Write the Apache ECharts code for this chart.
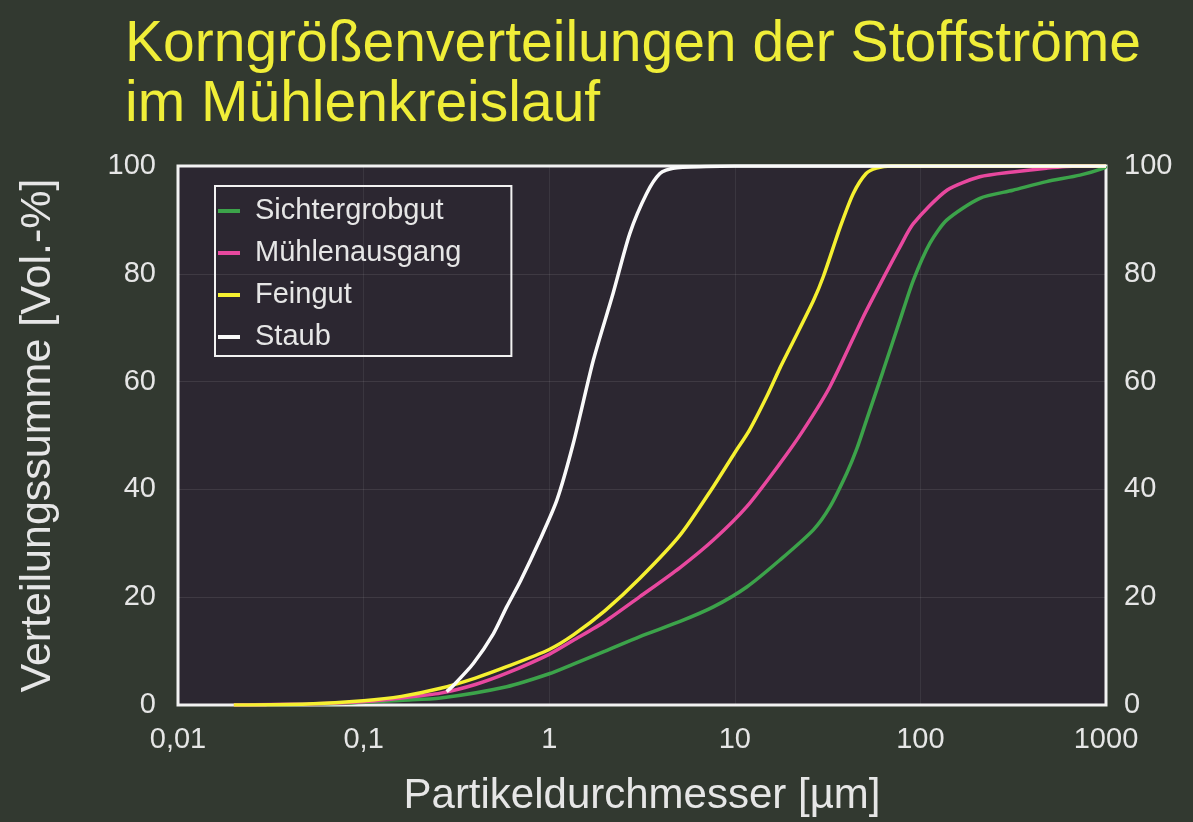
<!DOCTYPE html>
<html>
<head>
<meta charset="utf-8">
<script src="https://cdn.jsdelivr.net/npm/echarts@6/dist/echarts.min.js"></script>
<style>
	html, body { margin: 0; padding: 0; background: #323930; }
	#chart { width: 1193px; height: 822px; }
</style>
</head>
<body>
<div id="chart"></div>
<script>
// Partikeldurchmesser [µm] -> Verteilungssumme [Vol.-%]
const sichtergrobgut = [[0.03, 0], [0.072, 0.3], [0.163, 0.9], [0.26, 1.3], [0.59, 3.4], [1, 5.8], [1.35, 7.6], [2, 10], [3.08, 12.7], [5.07, 15.5], [7.66, 18.2], [11.6, 21.9], [17.5, 26.9], [26.5, 32.5], [32.6, 36.8], [40.1, 43], [45.4, 47.5], [51.4, 53], [63, 62], [77.6, 71.4], [91.6, 78.8], [112.6, 85.7], [139, 90], [209, 94], [315, 95.5], [478, 97.1], [724, 98.3], [975, 99.6], [1000, 100]]
const muehlenausgang = [[0.02, 0], [0.05, 0.2], [0.1, 0.6], [0.16, 1.3], [0.26, 2.2], [0.4, 3.8], [0.59, 5.9], [1, 9.4], [1.35, 12], [2, 15.5], [3.08, 20.1], [5.07, 25.5], [7.66, 30.6], [11.6, 36.8], [17.5, 44.8], [23.4, 51], [32.6, 59.1], [49.2, 72], [60.5, 78], [77.6, 85], [91.6, 89.3], [139, 95.5], [209, 98], [315, 98.9], [478, 99.6], [700, 100], [1000, 100]]
const feingut = [[0.02, 0], [0.05, 0.2], [0.1, 0.8], [0.16, 1.6], [0.26, 3.1], [0.4, 5], [0.59, 7.1], [1, 10.3], [1.35, 13], [2, 17.5], [3.08, 23.5], [5.07, 31.5], [7.66, 40.5], [10, 46.8], [12, 51], [15, 57.5], [17.5, 62.5], [20, 66.5], [26.5, 75], [30, 79.5], [37, 88.7], [43.5, 94.9], [51, 98.6], [58, 99.6], [70, 100], [1000, 100]]
const staub = [[0.28, 2.5], [0.3, 3.4], [0.39, 7.7], [0.5, 13.2], [0.59, 18.2], [0.7, 23], [0.89, 30.6], [1.1, 38], [1.35, 48.6], [1.73, 64], [2.21, 76.4], [2.72, 87.5], [3.35, 94.9], [3.95, 98.6], [4.65, 99.6], [7, 99.9], [10, 100], [1000, 100]]
const yTicks = [0, 20, 40, 60, 80, 100]

const font = "'Liberation Sans', Arial, sans-serif"
const textColor = '#e6e6e6'

const chart = echarts.init(document.getElementById('chart'))

// Linien
const linie = (name, data, color) => ({
	name: name,
	type: 'line',
	data: data,
	smooth: 0.25,
	showSymbol: false,
	lineStyle: { color: color, width: 3.5 },
	itemStyle: { color: color }
})

const yAchse = (pos, margin) => ({
	type: 'value',
	position: pos,
	min: yTicks[0],
	max: yTicks[yTicks.length - 1],
	interval: 20,
	axisLine: { show: false },
	axisTick: { show: false },
	splitLine: { show: pos === 'left', lineStyle: { color: 'rgba(255,255,255,0.09)', width: 1 } },
	axisLabel: { color: textColor, fontSize: 29, fontFamily: font, margin: margin }
})

const option = {
	backgroundColor: '#323930',
	animation: false,
	title: {
		text: 'Korngrößenverteilungen der Stoffströme\nim Mühlenkreislauf',
		left: 125,
		top: 15,
		padding: 0,
		textStyle: { color: '#f0ee38', fontSize: 57, fontWeight: 'normal', fontFamily: font, lineHeight: 60 }
	},
	legend: {
		orient: 'vertical',
		left: 215,
		top: 186,
		padding: [10, 50, 4, 3],
		itemGap: 12,
		itemWidth: 22,
		itemHeight: 4,
		icon: 'rect',
		borderColor: '#f2f2f2',
		borderWidth: 2,
		textStyle: { color: textColor, fontSize: 29, fontFamily: font, lineHeight: 30, padding: [0, 0, 0, 10] },
		data: ['Sichtergrobgut', 'Mühlenausgang', 'Feingut', 'Staub']
	},
	grid: {
		left: 178,
		right: 87,
		top: 166,
		bottom: 117,
		show: true,
		backgroundColor: '#2c2731',
		borderColor: '#f2f2f2',
		borderWidth: 3
	},
	xAxis: {
		type: 'log',
		logBase: 10,
		min: 0.01,
		max: 1000,
		name: 'Partikeldurchmesser [µm]',
		nameLocation: 'middle',
		nameGap: 70,
		nameTextStyle: { color: textColor, fontSize: 42, fontFamily: font },
		axisLine: { show: false },
		axisTick: { show: false },
		splitLine: { show: true, lineStyle: { color: 'rgba(255,255,255,0.07)', width: 1 } },
		axisLabel: {
			color: textColor,
			fontSize: 29,
			fontFamily: font,
			margin: 20,
			formatter: v => String(+Number(v).toPrecision(4)).replace('.', ',')
		}
	},
	yAxis: [
		Object.assign(yAchse('left', 22), {
			name: 'Verteilungssumme [Vol.-%]',
			nameLocation: 'middle',
			nameGap: 118,
			nameTextStyle: { color: textColor, fontSize: 43, fontFamily: font }
		}),
		yAchse('right', 18)
	],
	series: [
		linie('Sichtergrobgut', sichtergrobgut, '#3ca34a'),
		linie('Mühlenausgang', muehlenausgang, '#e8489f'),
		linie('Feingut', feingut, '#f5f030'),
		linie('Staub', staub, '#fafafa')
	]
}

chart.setOption(option)
window.addEventListener('resize', function () {
	chart.resize()
})
</script>
</body>
</html>
